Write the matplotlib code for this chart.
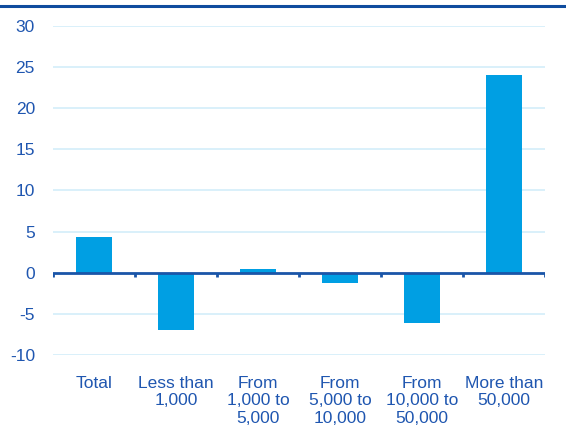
import matplotlib.pyplot as plt
from matplotlib.lines import Line2D
import numpy as np

categories = ["Total", "Less than\n1,000", "From\n1,000 to\n5,000", "From\n5,000 to\n10,000",
              "From\n10,000 to\n50,000", "More than\n50,000"]
values = [4.4, -6.9, 0.4, -1.2, -6.1, 24.0]
yticks = [-10, -5, 0, 5, 10, 15, 20, 25, 30]

BAR = "#009FE3"
DARK = "#1A55A8"
TEXT = "#1F56B0"
GRID = "#D3EEFA"

plt.rcParams["font.family"] = ["Liberation Sans", "DejaVu Sans"]
plt.rcParams["font.size"] = 12.5

fig = plt.figure(figsize=(5.66, 4.25), dpi=100)
ax = fig.add_axes([0.0936, 0.1647, 0.8694, 0.7742])

x = np.arange(len(categories))
ax.bar(x, values, width=0.43, color=BAR, zorder=2)

ax.set_xlim(-0.5, len(categories) - 0.5)
ax.set_ylim(-10, 30)
ax.set_yticks(yticks)
ax.set_yticklabels([str(v) for v in yticks])
for v in yticks:
    if v != 0:
        ax.axhline(v, color=GRID, lw=1.2, zorder=0)
ax.axhline(0, color=DARK, lw=2, zorder=3)
# tick marks on the zero line at category boundaries
for b in np.arange(-0.5, len(categories), 1.0):
    ax.plot([b, b], [0, -0.55], color=DARK, lw=2, zorder=3, solid_capstyle="butt")

for s in ax.spines.values():
    s.set_visible(False)
ax.tick_params(axis="y", length=0, pad=13, colors=TEXT, labelsize=12.5)
ax.set_xticks(x)
ax.set_xticklabels(categories, linespacing=1.2)
ax.tick_params(axis="x", length=0, pad=15, colors=TEXT, labelsize=12.5)

fig.add_artist(Line2D([0, 1], [0.986, 0.986], color="#0F4C9E", lw=2.2, transform=fig.transFigure))

fig.savefig("out.png", dpi=100)
